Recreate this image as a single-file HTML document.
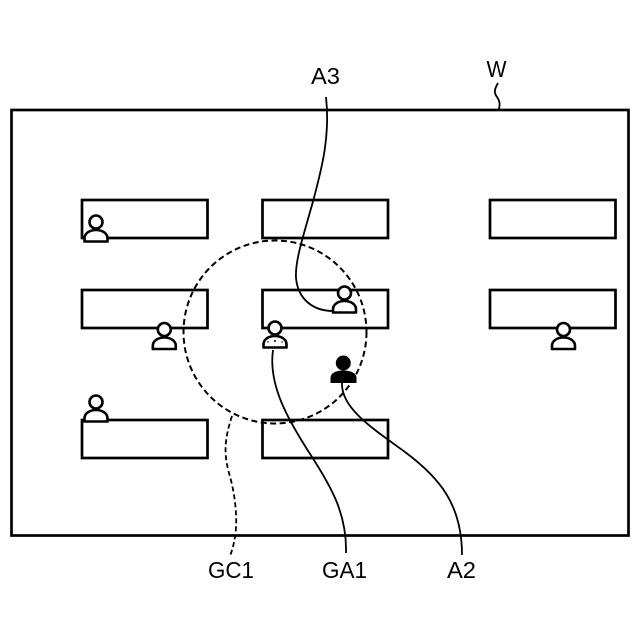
<!DOCTYPE html>
<html><head><meta charset="utf-8"><style>
html,body{margin:0;padding:0;background:#fff}
svg{display:block}
text{font-family:"Liberation Sans",sans-serif;font-size:23px;fill:#000}
</style></head><body>
<svg width="640" height="640" viewBox="0 0 640 640" xmlns="http://www.w3.org/2000/svg">
<defs>
<g id="p">
<circle cx="0" cy="0" r="6.5" fill="#fff" stroke="#000" stroke-width="2.6"/>
<path d="M-11.5 19.500V16.500C-11.500 11 -6 8 0 8C6 8 11.500 11 11.500 16.500V19.500Z" fill="#fff" stroke="#000" stroke-width="2.6" stroke-linejoin="round"/>
</g>
</defs>
<g fill="none" stroke="#000" stroke-width="2.7">
<rect x="11.5" y="110" width="617" height="425.5"/>
<rect x="82" y="200" width="125.5" height="38"/>
<rect x="262.500" y="200" width="125.5" height="38"/>
<rect x="490" y="200" width="125.5" height="38"/>
<rect x="82" y="290" width="125.5" height="38"/>
<rect x="262.500" y="290" width="125.5" height="38"/>
<rect x="490" y="290" width="125.5" height="38"/>
<rect x="82" y="420" width="125.5" height="38"/>
<rect x="262.500" y="420" width="125.5" height="38"/>
</g>
<circle cx="275" cy="332" r="91.500" fill="none" stroke="#000" stroke-width="2" stroke-dasharray="6 3.5"/>
<g fill="none" stroke="#000" stroke-width="1.8">
<path d="M326 97C330 135 323 165 312 205C302 240 295 262 296 278C298 300 314 311 333 311"/>
<path d="M273 350C268 385 288 420 312 457C332 488 347 515 346 553"/>
<path d="M342 383C341 408 372 428 405 452C440 478 462 505 462 555"/>
<path d="M498 83C494 90 494 93 497 97C500 101 500 104 499 109"/>
<path d="M232 416C224 440 224 455 229 473C234 490 237 510 236 528C235 540 233 548 230 556" stroke-dasharray="5 3"/>
</g>
<use href="#p" x="96" y="222"/>
<use href="#p" x="164.300" y="329.500"/>
<use href="#p" x="344.500" y="293"/>
<use href="#p" x="275" y="328"/>
<use href="#p" x="563.500" y="329.500"/>
<use href="#p" x="96" y="402"/>
<circle cx="275" cy="341" r="1" fill="#000"/>
<circle cx="268" cy="342" r=".7" fill="#000"/><circle cx="282" cy="342" r=".7" fill="#000"/>
<g>
<circle cx="343.300" cy="363" r="7.5" fill="#000"/>
<path d="M330.500 383V378C330.500 373 336 370.500 343.300 370.500C350.500 370.500 356.500 373 356.500 378V383Z" fill="#000"/>
</g>
<text x="311" y="84" textLength="29" lengthAdjust="spacingAndGlyphs">A3</text>
<text x="486.500" y="77" textLength="20" lengthAdjust="spacingAndGlyphs">W</text>
<text x="208" y="578" textLength="46" lengthAdjust="spacingAndGlyphs">GC1</text>
<text x="322" y="578" textLength="45" lengthAdjust="spacingAndGlyphs">GA1</text>
<text x="447" y="578" textLength="29" lengthAdjust="spacingAndGlyphs">A2</text>
</svg>
</body></html>
